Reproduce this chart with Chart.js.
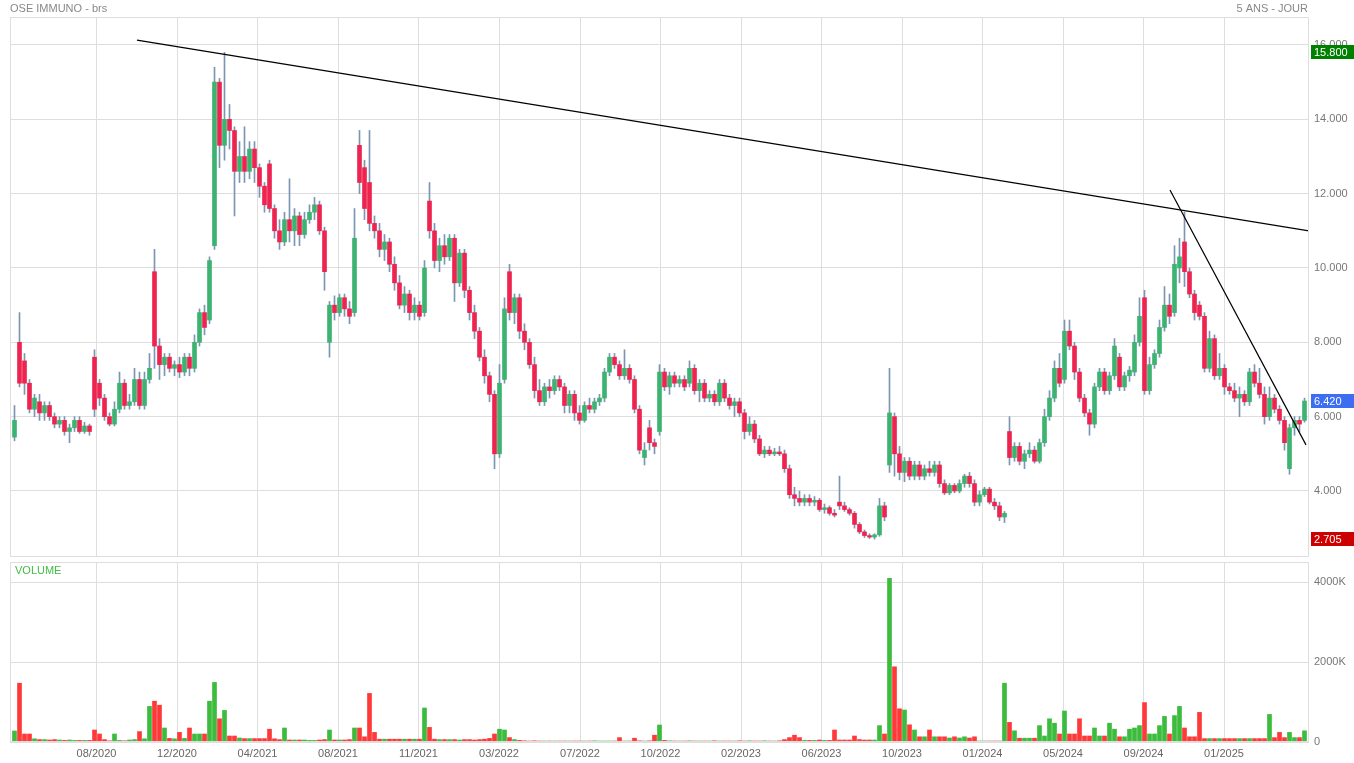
<!DOCTYPE html>
<html>
<head>
<meta charset="utf-8">
<title>OSE IMMUNO - brs</title>
<script src="https://cdn.jsdelivr.net/npm/chart.js@4.4.1/dist/chart.umd.min.js"></script>
<style>
  body { margin: 0; background: #fff; }
  #priceChart { position: absolute; left: 0; top: 0; }
  #volumeChart { position: absolute; left: 0; top: 560px; }
</style>
</head>
<body>
<canvas id="priceChart" width="1354" height="560"></canvas>
<canvas id="volumeChart" width="1354" height="203"></canvas>
<script>
  // weekly candles, one value per week (index = week)
  const opens = [
    5.45, 8.0, 7.5, 6.9, 6.2, 6.4, 6.1, 6.3, 6.0, 5.8, 5.9, 5.6, 5.7, 5.9, 5.6, 5.75, 7.6, 6.9, 6.5, 6.0,
    5.8, 6.2, 6.9, 6.3, 6.4, 7.0, 6.3, 7.0, 9.9, 7.9, 7.4, 7.6, 7.3, 7.4, 7.2, 7.6, 7.3, 8.0, 8.8, 8.6,
    10.6, 15.0, 13.3, 14.0, 13.7, 12.6, 13.0, 12.6, 13.2, 12.7, 12.2, 12.8, 11.6, 11.0, 10.7, 11.3, 11.0, 11.4, 10.9, 11.3,
    11.5, 11.7, 11.0, 8.0, 9.0, 8.8, 9.2, 8.9, 8.8, 13.3, 12.7, 12.3, 11.2, 11.0, 10.5, 10.7, 10.1, 9.6, 9.0, 9.3,
    8.8, 9.0, 8.8, 11.8, 11.0, 10.2, 10.6, 10.3, 10.8, 9.6, 10.4, 9.4, 8.8, 8.3, 7.6, 7.1, 6.6, 5.0, 7.0, 9.9,
    8.8, 9.2, 8.3, 8.0, 7.4, 6.7, 6.4, 6.8, 6.7, 7.0, 6.8, 6.3, 6.6, 6.1, 5.9, 6.3, 6.2, 6.4, 6.5, 7.2,
    7.6, 7.4, 7.1, 7.3, 7.0, 6.2, 4.9, 5.7, 5.3, 5.6, 7.2, 6.8, 7.1, 6.9, 7.0, 6.9, 7.3, 6.7, 6.9, 6.5,
    6.6, 6.4, 6.9, 6.5, 6.3, 6.4, 6.1, 5.6, 5.8, 5.4, 5.0, 5.1, 5.0, 5.05, 5.0, 4.6, 3.9, 3.8, 3.7, 3.8,
    3.7, 3.75, 3.5, 3.55, 3.4, 3.7, 3.6, 3.5, 3.4, 3.1, 2.9, 2.8, 2.76, 2.82, 3.6, 4.7, 6.0, 5.0, 4.5, 4.8,
    4.4, 4.7, 4.4, 4.6, 4.5, 4.7, 4.2, 3.95, 4.15, 4.0, 4.2, 4.4, 4.2, 3.7, 3.9, 4.05, 3.7, 3.6, 3.3, 5.6,
    4.9, 5.2, 4.8, 5.0, 5.1, 4.8, 5.3, 6.0, 6.5, 7.3, 7.0, 8.3, 7.9, 7.2, 6.5, 6.1, 5.8, 6.8, 7.2, 6.7,
    7.1, 7.6, 6.8, 7.1, 7.2, 8.0, 9.2, 6.7, 7.4, 7.7, 8.4, 9.0, 8.8, 10.0, 10.7, 9.9, 9.3, 9.0, 8.7, 7.3,
    8.1, 7.1, 7.3, 6.8, 6.7, 6.5, 6.6, 6.4, 7.2, 6.9, 6.6, 6.0, 6.5, 6.2, 5.9, 4.6, 5.7, 5.9, 5.9
  ];
  const highs = [
    6.3, 8.8, 7.7, 7.0, 6.6, 6.6, 6.4, 6.4, 6.1, 6.0, 6.0, 5.8, 6.0, 6.0, 5.85, 5.8, 7.8, 7.0, 6.6, 6.1,
    6.4, 7.2, 7.0, 6.6, 7.3, 7.2, 7.2, 7.7, 10.5, 8.1, 7.7, 7.7, 7.5, 7.6, 7.7, 7.7, 8.2, 8.9, 9.0, 10.3,
    15.4, 15.1, 15.8, 14.4, 13.8, 13.4, 13.8, 13.4, 13.4, 12.8, 12.3, 12.9, 11.7, 11.3, 11.5, 12.4, 11.6, 11.5, 11.5, 11.7,
    11.9, 11.8, 11.1, 9.1, 9.25, 9.3, 9.3, 9.1, 11.6, 13.7, 12.9, 13.7, 11.4, 11.2, 10.9, 10.8, 10.3, 9.8, 9.5, 9.4,
    9.2, 9.1, 10.2, 12.3, 11.2, 10.8, 10.9, 10.9, 10.9, 10.5, 10.5, 9.5, 9.0, 8.4, 7.8, 7.2, 6.7, 7.4, 9.2, 10.1,
    9.3, 9.3, 8.5, 8.1, 7.6, 7.0, 6.9, 7.0, 7.1, 7.1, 6.9, 6.7, 6.7, 6.3, 6.4, 6.5, 6.5, 6.6, 7.3, 7.7,
    7.7, 7.5, 7.8, 7.4, 7.1, 6.3, 5.3, 5.9, 5.4, 7.4, 7.3, 7.2, 7.2, 7.1, 7.1, 7.5, 7.4, 7.0, 7.0, 6.7,
    6.7, 7.0, 7.0, 6.6, 6.5, 6.5, 6.2, 6.0, 5.9, 5.5, 5.2, 5.2, 5.15, 5.2, 5.1, 4.7, 4.1, 4.0, 3.9, 3.9,
    3.85, 3.8, 3.65, 3.6, 3.5, 4.4, 3.7, 3.55, 3.45, 3.15, 2.95, 2.85, 2.85, 3.8, 3.7, 7.3, 6.1, 5.2, 4.9, 4.9,
    4.8, 4.8, 4.7, 4.8, 4.8, 4.8, 4.3, 4.2, 4.2, 4.3, 4.45, 4.5, 4.3, 4.0, 4.1, 4.1, 3.8, 3.7, 3.45, 6.0,
    5.3, 5.3, 5.1, 5.3, 5.2, 5.4, 6.2, 6.7, 7.5, 7.7, 8.6, 8.6, 8.0, 7.3, 6.6, 6.2, 6.9, 7.3, 7.3, 7.2,
    8.1, 7.7, 7.2, 7.35, 8.2, 9.2, 9.4, 7.6, 7.8, 8.6, 9.5, 9.3, 10.6, 10.8, 11.5, 10.0, 9.4, 9.1, 8.8, 8.3,
    8.2, 7.7, 7.4, 6.9, 6.9, 6.8, 6.7, 7.3, 7.4, 7.3, 6.8, 6.8, 6.6, 6.3, 6.0, 5.8, 6.0, 6.0, 6.5
  ];
  const lows = [
    5.35, 6.8, 6.6, 6.1, 6.0, 5.9, 5.9, 5.9, 5.7, 5.7, 5.5, 5.3, 5.6, 5.55, 5.55, 5.5, 6.0, 6.3, 5.9, 5.75,
    5.75, 6.1, 6.2, 6.2, 6.3, 6.2, 6.2, 6.9, 7.3, 7.0, 7.1, 7.2, 7.1, 7.05, 7.1, 7.1, 7.2, 7.9, 8.2, 8.5,
    10.5, 12.7, 12.9, 13.2, 11.4, 12.3, 12.3, 12.4, 12.3, 11.9, 11.5, 11.5, 10.8, 10.5, 10.6, 10.7, 10.6, 10.6, 10.8, 11.2,
    11.3, 10.9, 9.4, 7.6, 8.6, 8.7, 8.7, 8.5, 8.7, 12.0, 11.3, 11.0, 10.8, 10.3, 10.2, 9.9, 9.4, 8.9, 8.8, 8.6,
    8.6, 8.6, 8.7, 10.8, 10.0, 9.9, 10.1, 10.2, 9.1, 9.5, 9.2, 8.6, 8.1, 7.5, 6.9, 6.4, 4.6, 4.9, 6.9, 8.6,
    8.5, 8.1, 7.8, 7.3, 6.5, 6.3, 6.3, 6.5, 6.6, 6.7, 6.1, 6.1, 5.9, 5.8, 5.85, 6.1, 6.1, 6.3, 6.4, 7.1,
    7.3, 7.0, 7.0, 6.9, 6.1, 5.0, 4.7, 5.1, 5.0, 5.5, 6.7, 6.6, 6.8, 6.8, 6.7, 6.8, 6.6, 6.4, 6.4, 6.4,
    6.3, 6.3, 6.4, 6.2, 6.0, 6.0, 5.4, 5.5, 5.3, 4.95, 4.9, 4.95, 4.95, 4.95, 4.5, 3.8, 3.6, 3.6, 3.6, 3.6,
    3.6, 3.45, 3.4, 3.35, 3.3, 3.5, 3.45, 3.35, 3.0, 2.85, 2.75, 2.72, 2.705, 2.78, 3.2, 4.5, 4.4, 4.3, 4.25, 4.3,
    4.3, 4.3, 4.3, 4.4, 4.4, 4.1, 3.9, 3.9, 3.95, 3.95, 4.1, 4.1, 3.6, 3.6, 3.85, 3.65, 3.5, 3.2, 3.15, 4.7,
    4.8, 4.7, 4.6, 4.9, 4.75, 4.75, 5.2, 5.9, 6.4, 6.8, 6.9, 7.8, 7.0, 6.4, 6.0, 5.5, 5.7, 6.7, 6.6, 6.6,
    7.0, 6.7, 6.7, 6.95, 7.1, 7.9, 6.6, 6.6, 7.3, 7.6, 8.3, 8.5, 8.7, 9.6, 9.5, 9.2, 8.6, 8.6, 7.2, 7.2,
    7.0, 7.0, 6.6, 6.6, 6.4, 6.0, 6.3, 6.3, 6.8, 6.5, 5.8, 5.9, 6.1, 5.8, 5.1, 4.45, 5.5, 5.6, 5.85
  ];
  const closes = [
    5.9, 6.9, 6.9, 6.2, 6.5, 6.1, 6.3, 6.0, 5.8, 5.9, 5.6, 5.7, 5.9, 5.6, 5.75, 5.6, 6.2, 6.5, 6.0, 5.8,
    6.2, 6.9, 6.3, 6.4, 7.0, 6.3, 7.0, 7.3, 7.9, 7.4, 7.6, 7.3, 7.4, 7.2, 7.6, 7.3, 8.0, 8.8, 8.4, 10.2,
    15.0, 13.3, 14.0, 13.7, 12.6, 13.0, 12.6, 13.2, 12.7, 12.2, 11.7, 11.6, 11.0, 10.7, 11.3, 11.0, 11.4, 10.9, 11.3, 11.5,
    11.7, 11.0, 9.9, 9.0, 8.8, 9.2, 8.9, 8.7, 10.8, 12.3, 11.6, 11.2, 11.0, 10.5, 10.7, 10.1, 9.6, 9.0, 9.3, 8.8,
    9.0, 8.7, 10.0, 11.0, 10.2, 10.6, 10.3, 10.8, 9.6, 10.4, 9.4, 8.8, 8.3, 7.6, 7.1, 6.6, 5.0, 6.9, 8.9, 8.8,
    9.2, 8.3, 8.0, 7.4, 6.7, 6.4, 6.8, 6.7, 7.0, 6.8, 6.3, 6.6, 6.1, 5.9, 6.3, 6.2, 6.4, 6.5, 7.2, 7.6,
    7.4, 7.1, 7.3, 7.0, 6.2, 5.1, 5.1, 5.3, 5.2, 7.2, 6.8, 7.1, 6.9, 7.0, 6.8, 7.3, 6.7, 6.9, 6.5, 6.6,
    6.4, 6.9, 6.5, 6.3, 6.4, 6.1, 5.6, 5.8, 5.4, 5.0, 5.1, 5.0, 5.05, 5.0, 4.6, 3.9, 3.8, 3.7, 3.8, 3.7,
    3.75, 3.5, 3.55, 3.4, 3.35, 3.6, 3.5, 3.4, 3.1, 2.9, 2.8, 2.76, 2.82, 3.6, 3.3, 6.1, 5.0, 4.5, 4.8, 4.4,
    4.7, 4.4, 4.6, 4.5, 4.7, 4.2, 3.95, 4.15, 4.0, 4.2, 4.4, 4.2, 3.7, 3.9, 4.05, 3.7, 3.6, 3.3, 3.4, 4.9,
    5.2, 4.8, 5.0, 5.1, 4.8, 5.3, 6.0, 6.5, 7.3, 6.9, 8.3, 7.9, 7.2, 6.5, 6.1, 5.8, 6.8, 7.2, 6.7, 7.1,
    7.9, 6.8, 7.1, 7.25, 8.0, 8.7, 6.7, 7.4, 7.7, 8.4, 9.0, 8.7, 10.1, 10.3, 9.9, 9.3, 8.8, 8.7, 7.3, 8.1,
    7.1, 7.3, 6.8, 6.7, 6.5, 6.6, 6.4, 7.2, 6.9, 6.6, 6.0, 6.5, 6.2, 5.9, 5.3, 5.7, 5.9, 5.8, 6.42
  ];
  // volume in thousands of shares
  const volumes = [
    275, 1470, 200, 200, 80, 60, 60, 50, 60, 50, 40, 50, 40, 40, 40, 40, 300, 200, 60, 30,
    200, 40, 30, 50, 60, 260, 80, 890, 1020, 920, 350, 90, 80, 240, 90, 350, 200, 200, 200, 1020,
    1490, 580, 790, 150, 150, 100, 85, 85, 85, 85, 85, 320, 80, 60, 350, 50, 50, 50, 50, 40,
    40, 50, 60, 300, 50, 50, 50, 60, 350, 350, 130, 1215, 240, 70, 70, 70, 70, 70, 70, 70,
    70, 70, 850, 365, 70, 60, 60, 60, 60, 50, 60, 60, 50, 60, 70, 90, 200, 320, 300, 110,
    60, 40, 30, 25, 30, 25, 25, 25, 25, 25, 25, 25, 25, 25, 25, 25, 30, 25, 25, 25,
    25, 110, 25, 25, 95, 30, 25, 30, 170, 425, 40, 30, 25, 25, 25, 30, 25, 25, 25, 25,
    30, 25, 25, 25, 25, 30, 25, 30, 25, 25, 30, 25, 25, 30, 60, 110, 170, 110, 40, 40,
    40, 50, 40, 40, 300, 50, 50, 50, 150, 60, 50, 50, 50, 410, 200, 4090, 1880, 830, 800, 430,
    300, 130, 130, 300, 130, 130, 130, 100, 130, 100, 130, 100, 130, 25, 25, 25, 25, 25, 1470, 490,
    280, 95, 95, 95, 95, 410, 150, 580, 470, 200, 775, 200, 200, 580, 150, 150, 350, 150, 150, 470,
    320, 130, 130, 320, 350, 410, 985, 200, 200, 410, 640, 200, 660, 890, 350, 130, 130, 740, 85, 85,
    85, 85, 85, 85, 85, 85, 85, 85, 85, 85, 85, 690, 110, 240, 110, 240, 110, 110, 280
  ];

  const xTickPos = [16.4, 32.5, 48.6, 64.7, 80.8, 96.9, 113.1, 129.2, 145.3, 161.4, 177.5, 193.6, 209.7, 225.8, 241.9];
  const xTickLabels = ["08/2020", "12/2020", "04/2021", "08/2021", "11/2021", "03/2022", "07/2022", "10/2022",
    "02/2023", "06/2023", "10/2023", "01/2024", "05/2024", "09/2024", "01/2025"];
  const priceTicks = [4, 6, 8, 10, 12, 14, 16];
  const volumeTicks = [0, 2000, 4000];

  // trend lines drawn on the chart: [week, price]
  const trendLong = [[24.5, 16.13], [258.9, 11.0]];
  const trendShort = [[231.1, 12.1], [258.3, 5.24]];

  const UP = "#3cb371";
  const DOWN = "#ee2450";
  const WICK = "#7d95b4";
  const GRID = "#dedede";
  const FONT = { family: "'Liberation Sans', Arial, sans-serif", size: 11 };

  const isUp = (i) => closes[i] >= opens[i];

  const markers = [
    { value: Math.max(...highs), color: "#008000" },
    { value: closes[closes.length - 1], color: "#3d6ef2" },
    { value: Math.min(...lows), color: "#cc0000" },
  ];

  const xScale = {
    type: "linear",
    min: -0.9,
    max: 258.9,
    offset: false,
    afterBuildTicks: (s) => {
      s.ticks = xTickPos.map((v) => ({ value: v }));
    },
    grid: { color: GRID, drawTicks: false, offset: false },
    border: { display: false },
  };

  // no extra room for half labels at the ends of the value axes
  const noPad = (s) => {
    s.width = 45;
    s.paddingTop = 0;
    s.paddingBottom = 0;
  };

  const priceDecor = {
    id: "priceDecor",
    afterDraw(chart) {
      const { ctx, chartArea } = chart;
      const y = chart.scales.y;
      ctx.save();
      ctx.strokeStyle = GRID;
      ctx.lineWidth = 1;
      ctx.strokeRect(chartArea.left + 0.5, chartArea.top + 0.5, chartArea.width - 1, chartArea.height - 1);
      ctx.font = "11px 'Liberation Sans', Arial, sans-serif";
      ctx.textBaseline = "middle";
      ctx.fillStyle = "#888";
      ctx.textAlign = "left";
      ctx.fillText("OSE IMMUNO - brs", 10, 9);
      ctx.textAlign = "right";
      ctx.fillText("5 ANS - JOUR", chartArea.right - 1, 9);
      ctx.textAlign = "left";
      markers.forEach((m) => {
        const py = Math.round(y.getPixelForValue(m.value));
        ctx.fillStyle = m.color;
        ctx.fillRect(chartArea.right + 2, py - 7, 43, 14);
        ctx.fillStyle = "#fff";
        ctx.fillText(m.value.toFixed(3), chartArea.right + 5, py + 1);
      });
      ctx.restore();
    },
  };

  const volumeDecor = {
    id: "volumeDecor",
    afterDraw(chart) {
      const { ctx, chartArea } = chart;
      ctx.save();
      ctx.strokeStyle = GRID;
      ctx.lineWidth = 1;
      ctx.strokeRect(chartArea.left + 0.5, chartArea.top + 0.5, chartArea.width - 1, chartArea.height - 1);
      ctx.font = "11px 'Liberation Sans', Arial, sans-serif";
      ctx.textBaseline = "middle";
      ctx.textAlign = "left";
      ctx.fillStyle = "#44bb44";
      ctx.fillText("VOLUME", chartArea.left + 5, chartArea.top + 9);
      ctx.restore();
    },
  };

  new Chart(document.getElementById("priceChart"), {
    type: "bar",
    data: {
      datasets: [
        {
          type: "line",
          data: trendLong.map((p) => ({ x: p[0], y: p[1] })),
          borderColor: "#000",
          borderWidth: 1.2,
          pointRadius: 0,
          order: 0,
        },
        {
          type: "line",
          data: trendShort.map((p) => ({ x: p[0], y: p[1] })),
          borderColor: "#000",
          borderWidth: 1.2,
          pointRadius: 0,
          order: 0,
        },
        {
          data: opens.map((o, i) => ({ x: i, y: [o, closes[i]] })),
          backgroundColor: (c) => (isUp(c.dataIndex) ? UP : DOWN),
          barThickness: 4,
          grouped: false,
          minBarLength: 1,
          order: 1,
        },
        {
          data: lows.map((l, i) => ({ x: i, y: [l, highs[i]] })),
          backgroundColor: WICK,
          barThickness: 1,
          grouped: false,
          order: 2,
        },
      ],
    },
    options: {
      responsive: false,
      animation: false,
      layout: { padding: { top: 17, left: 10, bottom: 3, right: 0 } },
      plugins: { legend: { display: false }, tooltip: { enabled: false } },
      scales: {
        x: Object.assign({}, xScale, {
          ticks: { display: false },
          afterFit: (s) => {
            s.height = 0;
          },
        }),
        y: {
          position: "right",
          min: 2.224,
          max: 16.753,
          afterBuildTicks: (s) => {
            s.ticks = priceTicks.map((v) => ({ value: v }));
          },
          ticks: {
            color: "#777",
            font: FONT,
            padding: 5,
            callback: (v) => Number(v).toFixed(3),
          },
          grid: { color: GRID, drawTicks: false },
          border: { display: false },
          afterFit: noPad,
        },
      },
    },
    plugins: [priceDecor],
  });

  new Chart(document.getElementById("volumeChart"), {
    type: "bar",
    data: {
      datasets: [
        {
          data: volumes.map((v, i) => ({ x: i, y: v })),
          backgroundColor: (c) => (isUp(c.dataIndex) ? "#3cbc3c" : "#ff3838"),
          barThickness: 4,
          grouped: false,
        },
      ],
    },
    options: {
      responsive: false,
      animation: false,
      layout: { padding: { top: 2, left: 10, bottom: 0, right: 0 } },
      plugins: { legend: { display: false }, tooltip: { enabled: false } },
      scales: {
        x: Object.assign({}, xScale, {
          ticks: {
            color: "#666",
            font: FONT,
            padding: 5,
            autoSkip: false,
            maxRotation: 0,
            callback: (v, i) => xTickLabels[i],
          },
          afterFit: (s) => {
            s.height = 21;
          },
        }),
        y: {
          position: "right",
          min: 0,
          max: 4500,
          afterBuildTicks: (s) => {
            s.ticks = volumeTicks.map((v) => ({ value: v }));
          },
          ticks: {
            color: "#777",
            font: FONT,
            padding: 5,
            callback: (v) => (v === 0 ? "0" : v + "K"),
          },
          grid: { color: GRID, drawTicks: false },
          border: { display: false },
          afterFit: noPad,
        },
      },
    },
    plugins: [volumeDecor],
  });
</script>
</body>
</html>
